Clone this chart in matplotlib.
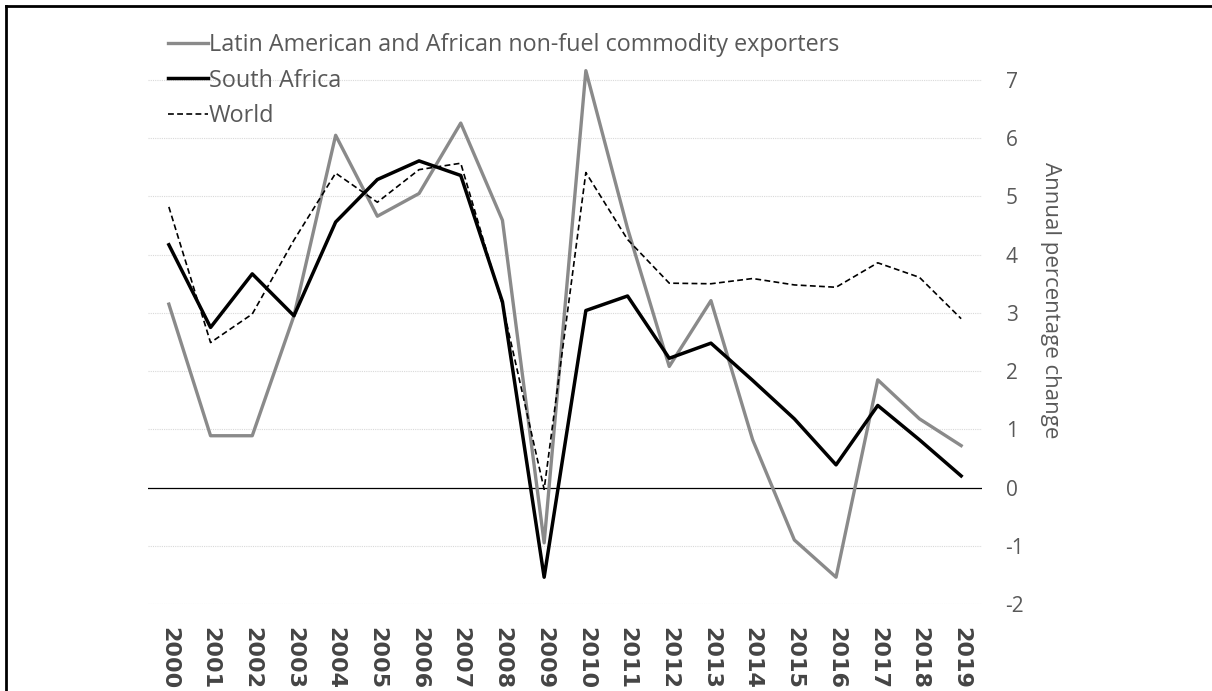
import matplotlib.pyplot as plt
from matplotlib.lines import Line2D
import numpy as np

years = list(range(2000, 2020))
latam_africa = [3.15, 0.89, 0.89, 2.95, 6.05, 4.66, 5.05, 6.26, 4.59, -0.95,
                7.16, 4.45, 2.08, 3.21, 0.82, -0.90, -1.54, 1.85, 1.18, 0.72]
south_africa = [4.17, 2.75, 3.67, 2.95, 4.56, 5.29, 5.61, 5.36, 3.19, -1.54,
                3.04, 3.29, 2.22, 2.48, 1.84, 1.18, 0.39, 1.41, 0.82, 0.20]
world = [4.82, 2.49, 2.98, 4.25, 5.40, 4.90, 5.46, 5.57, 3.14, -0.03,
         5.41, 4.26, 3.51, 3.50, 3.59, 3.48, 3.44, 3.86, 3.61, 2.90]
labels = ["Latin American and African non-fuel commodity exporters",
          "South Africa", "World"]
y_ticks = list(range(-2, 8))

COR_CINZA = "#8a8a8a"
COR_TXT = "#595959"
COR_GRADE = "#d9d9d9"

plt.rcParams["font.family"] = ["Open Sans", "DejaVu Sans"]

fig = plt.figure(figsize=(12.12, 6.91), dpi=100)
ax = fig.add_axes([148 / 1212, 87 / 691, (982 - 148) / 1212, (604 - 62.5) / 691])

x = np.arange(len(years))
ax.plot(x, latam_africa, color=COR_CINZA, lw=2.4, label=labels[0], clip_on=False, zorder=3)
ax.plot(x, south_africa, color="black", lw=2.5, label=labels[1], clip_on=False, zorder=4)
ax.plot(x, world, color="black", lw=1.2, ls=(0, (3.5, 2)), label=labels[2], clip_on=False, zorder=5)

ax.axhline(0, color="black", lw=0.9, zorder=2)
for t in y_ticks:
    if t != 0:
        ax.axhline(t, color=COR_GRADE, lw=0.8, ls=(0, (1, 1)), zorder=1)

ax.set_xlim(-0.5, len(years) - 0.5)
ax.set_ylim(-2, 7.3)
for s in ax.spines.values():
    s.set_visible(False)

ax.yaxis.tick_right()
ax.set_yticks(y_ticks)
ax.set_yticklabels([str(t) for t in y_ticks], fontsize=15, color=COR_TXT)
ax.tick_params(axis="y", length=0, pad=17)

ax.set_xticks(x)
ax.set_xticklabels([str(y) for y in years], rotation=270, fontsize=16,
                   fontweight="bold", color="#444444", family="DejaVu Sans")
ax.tick_params(axis="x", length=0, pad=16.5)

fig.text(1050 / 1212, 1 - 300 / 691, "Annual percentage change", rotation=270,
         ha="center", va="center", fontsize=16, color=COR_TXT)

leg = ax.legend(loc="upper left", bbox_to_anchor=(168 / 1212, 1 - 33 / 691),
                bbox_transform=fig.transFigure, frameon=False, fontsize=16.8,
                handlelength=1.7, handletextpad=0.05, labelspacing=0.5,
                borderpad=0, borderaxespad=0)
for t in leg.get_texts():
    t.set_color(COR_TXT)

# moldura (apenas topo e esquerda visiveis)
fig.add_artist(Line2D([6 / 1212, 1], [1 - 6 / 691, 1 - 6 / 691], color="black", lw=2,
                      transform=fig.transFigure))
fig.add_artist(Line2D([6 / 1212, 6 / 1212], [0, 1 - 6 / 691], color="black", lw=2,
                      transform=fig.transFigure))

fig.savefig("out.png", dpi=100)
